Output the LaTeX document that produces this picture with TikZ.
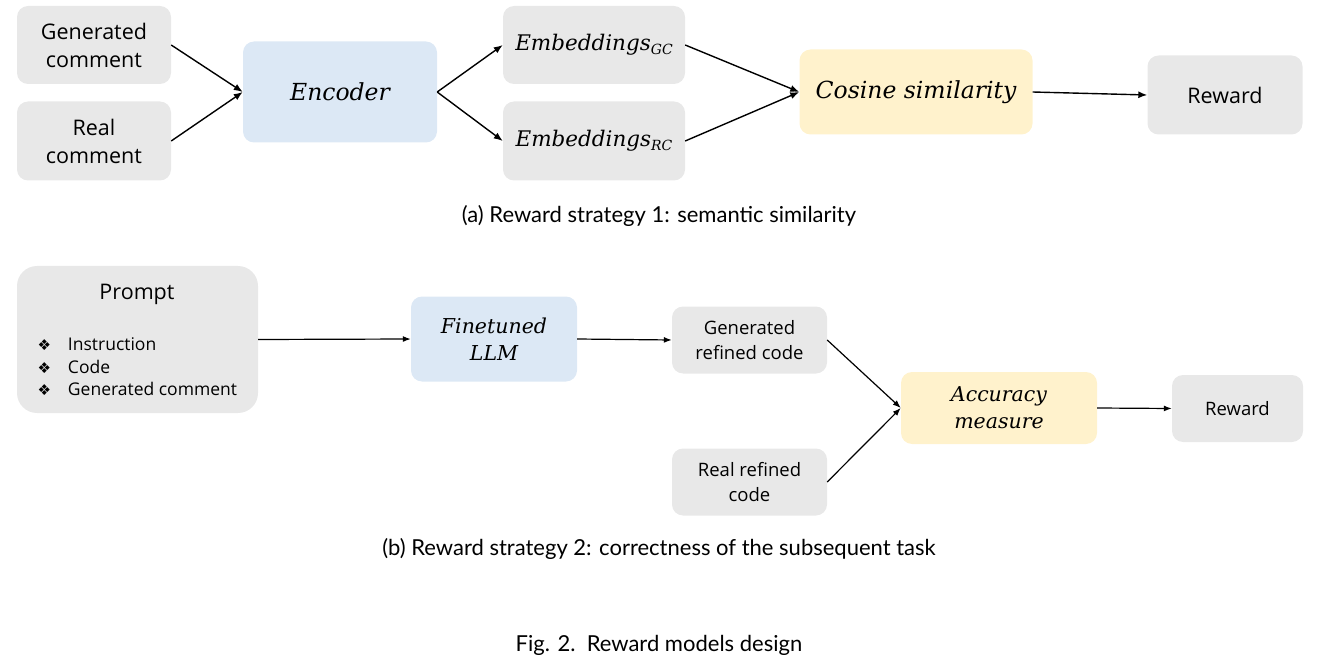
\documentclass[tikz,border=0pt]{standalone}
\usepackage{fontspec}
\setmainfont{Open Sans}
\newfontfamily\mitfont{DejaVu Serif}[UprightFont=* Italic]
\newfontfamily\capfont{Lato}
\newfontfamily\dejavu{DejaVu Sans}
\usetikzlibrary{arrows.meta}
\definecolor{boxgray}{HTML}{E8E8E8}
\definecolor{boxblue}{HTML}{DCE8F5}
\definecolor{boxyellow}{HTML}{FFF2CC}
\newcommand{\sbs}[1]{\raisebox{-0.35ex}{\fontsize{14}{14}\selectfont #1}}
\newcommand{\bul}{{\dejavu\fontsize{15}{15}\selectfont ❖}\hspace{17pt}}
\begin{document}
\begin{tikzpicture}[x=1pt,y=-1pt,
  box/.style={rounded corners=11pt, inner sep=0pt, align=center},
  gbox/.style={box, fill=boxgray},
  bbox/.style={box, fill=boxblue},
  ybox/.style={box, fill=boxyellow},
  big/.style={font=\fontsize{21.5}{28}\selectfont},
  small/.style={font=\fontsize{18.5}{24.5}\selectfont},
  listtext/.style={font=\fontsize{17.5}{22.5}\selectfont},
  mbig/.style={font=\mitfont\fontsize{23.5}{28}\selectfont},
  memb/.style={font=\mitfont\fontsize{21.5}{28}\selectfont},
  msmall/.style={font=\mitfont\fontsize{20.5}{27}\selectfont},
  captext/.style={font=\capfont\fontsize{22}{26}\selectfont},
  arr/.style={-{Latex[length=9pt,width=7pt]}, line width=1.4pt},
  arrs/.style={-{Latex[length=8pt,width=6pt]}, line width=1.2pt}]
\useasboundingbox (0,0) rectangle (1331,663);
% ---------- (a)
\node[gbox, big, minimum width=154pt, minimum height=78pt] (gc) at (94,45) {Generated\\comment};
\node[gbox, big, minimum width=154pt, minimum height=79pt] (rc) at (94,141) {Real\\comment};
\node[bbox, mbig, minimum width=194pt, minimum height=101pt] (enc) at (340,92) {Encoder};
\node[gbox, memb, minimum width=182pt, minimum height=78pt] (egc) at (594,45) {Embeddings\sbs{GC}};
\node[gbox, memb, minimum width=182pt, minimum height=79pt] (erc) at (594,141) {Embeddings\sbs{RC}};
\node[ybox, mbig, minimum width=233pt, minimum height=85pt] (cos) at (916,92) {Cosine similarity};
\node[gbox, big, minimum width=155pt, minimum height=79pt] (rwa) at (1225,95) {Reward};
\draw[arr] (gc.east) -- (enc.west);
\draw[arr] (rc.east) -- (enc.west);
\draw[arr] (enc.east) -- (egc.west);
\draw[arr] (enc.east) -- (erc.west);
\draw[arr] (egc.east) -- (cos.west);
\draw[arr] (erc.east) -- (cos.west);
\draw[arr] (cos.east) -- (rwa.west);
\node[captext] (capa) at (659,216) {(a) Reward strategy 1: semantic similarity};
% ---------- (b)
\node[gbox, minimum width=241pt, minimum height=147pt, rounded corners=20pt] (pr) at (137.5,339.5) {};
\node[big, anchor=base] (prt) at (137,299) {Prompt};
\node[listtext, anchor=west, align=left] (prl) at (34,367) {\bul Instruction\\\bul Code\\\bul Generated comment};
\node[bbox, msmall, minimum width=166pt, minimum height=85pt] (ft) at (494,339) {Finetuned\\LLM};
\node[gbox, small, minimum width=155pt, minimum height=67pt] (grc) at (749.5,340) {Generated\\refined code};
\node[gbox, small, minimum width=155pt, minimum height=67pt] (rrc) at (749.5,482) {Real refined\\code};
\node[ybox, msmall, minimum width=196pt, minimum height=72pt] (acc) at (999,408) {Accuracy\\measure};
\node[gbox, small, minimum width=131pt, minimum height=67pt] (rwb) at (1237.5,408.5) {Reward};
\draw[arrs] (pr.east) -- (ft.west);
\draw[arrs] (ft.east) -- (grc.west);
\draw[arrs] (grc.east) -- (acc.west);
\draw[arrs] (rrc.east) -- (acc.west);
\draw[arrs] (acc.east) -- (rwb.west);
\node[captext] (capb) at (659,549) {(b) Reward strategy 2: correctness of the subsequent task};
\node[captext] (fig) at (659,645) {Fig. 2.\ \ Reward models design};
\end{tikzpicture}
\end{document}
